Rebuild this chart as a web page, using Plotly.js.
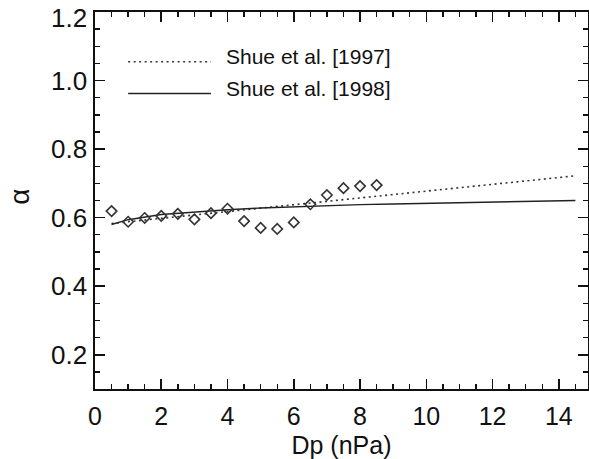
<!DOCTYPE html>
<html>
<head>
<meta charset="utf-8">
<script src="https://cdn.plot.ly/plotly-3.0.1.min.js"></script>
<style>
  html, body { margin: 0; padding: 0; background: #fff; }
  #chart { width: 589px; height: 459px; }
</style>
</head>
<body>
<div id="chart"></div>
<script>
// Observed points (diamonds)
const dpObs = [0.5, 1.0, 1.5, 2.0, 2.5, 3.0, 3.5, 4.0, 4.5, 5.0, 5.5, 6.0, 6.5, 7.0, 7.5, 8.0, 8.5];
const alphaObs = [0.619, 0.588, 0.599, 0.605, 0.611, 0.595, 0.613, 0.626, 0.590, 0.570, 0.567, 0.586, 0.639, 0.666, 0.686, 0.692, 0.695];

// Shue et al. [1997] model (dotted)
const dp1997 = [0.5, 4, 8, 12, 14.5];
const alpha1997 = [0.583, 0.618, 0.658, 0.698, 0.722];

// Shue et al. [1998] model (solid)
const dp1998 = [0.5, 1, 2, 3, 4, 5, 6, 7, 8, 9, 10, 11, 12, 13, 14, 14.5];
const alpha1998 = [0.580, 0.594, 0.609, 0.617, 0.623, 0.628, 0.632, 0.635, 0.638, 0.640, 0.642, 0.644, 0.646, 0.648, 0.649, 0.650];

const seriesNames = ['Shue et al. [1997]', 'Shue et al. [1998]'];
const xTitle = 'Dp (nPa)';
const yTitle = 'α';
const yTickVals = [0.2, 0.4, 0.6, 0.8, 1.0, 1.2];
const yTickText = ['0.2', '0.4', '0.6', '0.8', '1.0', '1.2'];

const FONT = '"Liberation Sans", Arial, Helvetica, sans-serif';
const INK = '#111';

const traces = [
  { x: dp1997, y: alpha1997, mode: 'lines', name: seriesNames[0],
    line: { color: '#333', width: 1.6, dash: '2px,3.5px' }, showlegend: false },
  { x: dp1998, y: alpha1998, mode: 'lines', name: seriesNames[1],
    line: { color: '#222', width: 1.4 }, showlegend: false },
  { x: dpObs, y: alphaObs, mode: 'markers', name: 'data',
    marker: { symbol: 'diamond-open', size: 8, color: '#333', line: { width: 1.6, color: '#333' } },
    showlegend: false }
];

const axisCommon = {
  showline: true, linewidth: 2, linecolor: INK, mirror: 'ticks',
  ticks: 'inside', ticklen: 10, tickwidth: 1.6, tickcolor: INK,
  showgrid: false, zeroline: false,
  tickfont: { family: FONT, size: 25, color: INK }
};

// y tick labels as annotations; the top one is nudged down to stay inside the page
const yTickLabels = yTickVals.map((v, i) => ({
  xref: 'paper', yref: 'y', x: 0, y: v, text: yTickText[i], showarrow: false,
  xanchor: 'right', yanchor: 'middle', xshift: -6,
  yshift: (i === yTickVals.length - 1) ? -6 : 0,
  font: { family: FONT, size: 26, color: INK }
}));

const layout = {
  width: 589, height: 459,
  margin: { l: 95, r: 1, t: 12, b: 70 },
  paper_bgcolor: '#fff', plot_bgcolor: '#fff',
  font: { family: FONT, color: INK },
  xaxis: Object.assign({}, axisCommon, {
    range: [0, 14.88], tick0: 0, dtick: 2,
    ticklabelstandoff: 4,
    minor: { dtick: 0.5, ticks: 'inside', ticklen: 5, tickwidth: 1.4, tickcolor: INK, showgrid: false },
    title: { text: xTitle, font: { family: FONT, size: 25, color: INK }, standoff: 9 }
  }),
  yaxis: Object.assign({}, axisCommon, {
    range: [0.1, 1.2], tickmode: 'array', tickvals: yTickVals, ticktext: yTickText,
    showticklabels: false,
    minor: { tickmode: 'linear', tick0: 0, dtick: 0.05, ticks: 'inside', ticklen: 5, tickwidth: 1.4, tickcolor: INK, showgrid: false }
  }),
  shapes: [
    { type: 'line', xref: 'x', yref: 'y', x0: 1.0, x1: 3.5, y0: 1.055, y1: 1.055,
      line: { color: '#333', width: 1.6, dash: '2px,3.5px' } },
    { type: 'line', xref: 'x', yref: 'y', x0: 1.0, x1: 3.5, y0: 0.962, y1: 0.962,
      line: { color: '#222', width: 1.4 } }
  ],
  annotations: [
    { xref: 'x', yref: 'y', x: 3.9, y: 1.07, text: seriesNames[0], showarrow: false,
      xanchor: 'left', yanchor: 'middle', font: { family: FONT, size: 21, color: INK } },
    { xref: 'x', yref: 'y', x: 3.9, y: 0.977, text: seriesNames[1], showarrow: false,
      xanchor: 'left', yanchor: 'middle', font: { family: FONT, size: 21, color: INK } },
    { xref: 'paper', yref: 'paper', x: -0.152, y: 0.51, text: yTitle, showarrow: false,
      textangle: -90, xanchor: 'center', yanchor: 'middle',
      font: { family: FONT, size: 28, color: INK } }
  ].concat(yTickLabels)
};

Plotly.newPlot('chart', traces, layout, { displayModeBar: false, staticPlot: true });
</script>
</body>
</html>
